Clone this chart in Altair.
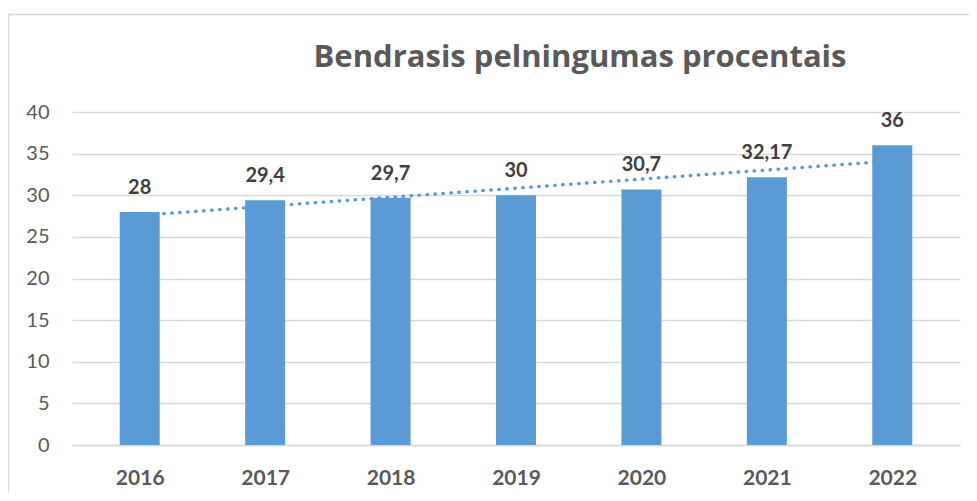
import altair as alt
import pandas as pd

title_text = "Bendrasis pelningumas procentais"
years = [2016, 2017, 2018, 2019, 2020, 2021, 2022]
values = [28, 29.4, 29.7, 30, 30.7, 32.17, 36]
labels = ["28", "29,4", "29,7", "30", "30,7", "32,17", "36"]

df = pd.DataFrame({"year": years, "value": values, "label": labels})

FONT = "Lato"
BLUE = "#5B9BD5"
GRID = "#D9D9D9"

x_enc = alt.X(
    "year:Q",
    scale=alt.Scale(domain=[2015.5, 2022.5], nice=False, zero=False),
    axis=alt.Axis(
        values=years, format="d", title=None, grid=False, ticks=False,
        domain=True, domainColor=GRID, domainWidth=1.3,
        labelFont=FONT, labelFontSize=21, labelFontWeight="bold",
        labelColor="#595959", labelPadding=22,
    ),
)
y_enc = alt.Y(
    "value:Q",
    scale=alt.Scale(domain=[0, 40], nice=False),
    axis=alt.Axis(
        values=[0, 5, 10, 15, 20, 25, 30, 35, 40], title=None, grid=True,
        gridColor=GRID, gridWidth=1.3, ticks=False, domain=False,
        labelFont=FONT, labelFontSize=20, labelColor="#595959", labelPadding=23,
    ),
)

border = alt.Chart(alt.Data(values=[{}])).mark_rect(
    fill=None, stroke=GRID, strokeWidth=1.3
).encode(
    x=alt.value(-63.5), x2=alt.value(960), y=alt.value(-97.5), y2=alt.value(420)
)

title = alt.Chart(alt.Data(values=[{"t": title_text}])).mark_text(
    font="Open Sans", fontSize=31, fontWeight="bold", color="#595959",
    align="center", baseline="alphabetic",
).encode(x=alt.value(508), y=alt.value(-45), text="t:N")

base = alt.Chart(df)

bars = base.mark_bar(color=BLUE, size=40).encode(x=x_enc, y=y_enc)

text = base.mark_text(
    font=FONT, fontSize=20, fontWeight="bold", color="#404040",
    baseline="alphabetic", dy=-18,
).encode(x="year:Q", y="value:Q", text="label:N")

trend = base.transform_regression("year", "value").mark_line(
    color=BLUE, strokeWidth=3.4, strokeDash=[0.5, 7.5], strokeCap="round"
).encode(x="year:Q", y="value:Q")

chart = alt.layer(border, bars, trend, text, title).properties(
    width=888,
    height=333,
    padding={"left": 64, "top": 104, "right": 9, "bottom": 48},
    autosize=alt.AutoSizeParams(type="none"),
).configure_view(stroke=None)

chart.save("out.html", embed_options={"renderer": "svg", "actions": False})
